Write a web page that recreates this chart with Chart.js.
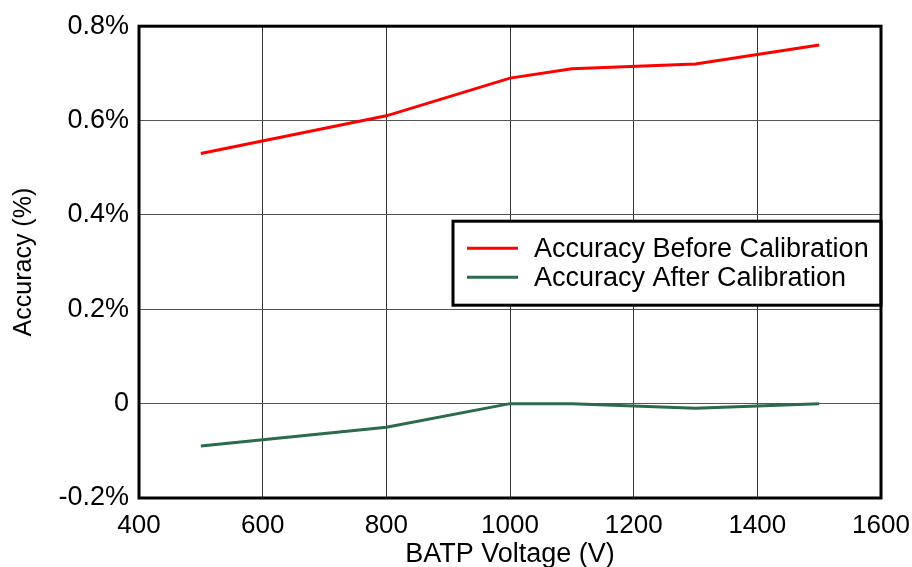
<!DOCTYPE html>
<html>
<head>
<meta charset="utf-8">
<script src="https://cdn.jsdelivr.net/npm/chart.js@4"></script>
<style>
  html, body { margin: 0; padding: 0; background: #fff; }
  #wrap { width: 912px; height: 567px; }
</style>
</head>
<body>
<div id="wrap"><canvas id="accChart" width="912" height="567"></canvas></div>
<script>
// BATP voltage (V) sampling points
const voltages = [500, 800, 1000, 1100, 1300, 1500]
// accuracy in %
const beforeCal = [0.53, 0.61, 0.69, 0.71, 0.72, 0.76]
const afterCal = [-0.09, -0.05, 0.0, 0.0, -0.01, 0.0]
const seriesNames = ['Accuracy Before Calibration', 'Accuracy After Calibration']
const yTickLabels = { '-0.2': '-0.2%', '0': '0', '0.2': '0.2%', '0.4': '0.4%', '0.6': '0.6%', '0.8': '0.8%' }

const FONT = '"Liberation Sans", Arial, sans-serif'
const RED = '#ff0000'
const GREEN = '#2b6b4b'

// legend drawn as a bordered box inside the plot area
const boxLegend = {
  id: 'boxLegend',
  afterDatasetsDraw(chart) {
    const { ctx, chartArea } = chart
    const w = 428, h = 84
    const x = chartArea.right - w
    const y = chartArea.top + 195
    ctx.save()
    ctx.fillStyle = '#fff'
    ctx.fillRect(x, y, w, h)
    ctx.lineWidth = 3
    ctx.strokeStyle = '#000'
    ctx.strokeRect(x, y, w, h)
    ctx.font = '27px ' + FONT
    ctx.textBaseline = 'middle'
    chart.data.datasets.forEach((ds, i) => {
      const ly = y + 27 + i * 29
      ctx.strokeStyle = ds.borderColor
      ctx.lineWidth = 3
      ctx.beginPath()
      ctx.moveTo(x + 14, ly)
      ctx.lineTo(x + 65, ly)
      ctx.stroke()
      ctx.fillStyle = '#000'
      ctx.fillText(ds.label, x + 81, ly + 1)
    })
    ctx.restore()
  }
}

// heavy frame around the plot
const frame = {
  id: 'frame',
  afterDraw(chart) {
    const { ctx, chartArea } = chart
    ctx.save()
    ctx.lineWidth = 3
    ctx.strokeStyle = '#000'
    ctx.strokeRect(chartArea.left, chartArea.top, chartArea.right - chartArea.left, chartArea.bottom - chartArea.top)
    ctx.restore()
  }
}

new Chart(document.getElementById('accChart').getContext('2d'), {
  type: 'line',
  data: {
    datasets: [
      {
        label: seriesNames[0],
        data: voltages.map((v, i) => ({ x: v, y: beforeCal[i] })),
        borderColor: RED,
        borderWidth: 3,
        pointRadius: 0,
        tension: 0,
        fill: false
      },
      {
        label: seriesNames[1],
        data: voltages.map((v, i) => ({ x: v, y: afterCal[i] })),
        borderColor: GREEN,
        borderWidth: 3,
        pointRadius: 0,
        tension: 0,
        fill: false
      }
    ]
  },
  options: {
    responsive: false,
    animation: false,
    layout: { padding: { top: 25, right: 0, left: 9, bottom: 0 } },
    scales: {
      x: {
        type: 'linear',
        min: 400,
        max: 1600,
        ticks: {
          stepSize: 200,
          color: '#000',
          font: { family: FONT, size: 26 },
          padding: 12,
          maxRotation: 0,
          callback: (v) => String(v)
        },
        grid: { color: '#333', lineWidth: 1, drawTicks: false },
        border: { display: false },
        title: { display: true, text: 'BATP Voltage (V)', color: '#000', font: { family: FONT, size: 27 }, padding: { top: 0, bottom: -4 } },
        afterFit(scale) {
          scale.height = 69
          scale.paddingRight = 31
        }
      },
      y: {
        min: -0.2,
        max: 0.8,
        ticks: {
          stepSize: 0.2,
          color: '#000',
          font: { family: FONT, size: 27 },
          padding: 10,
          callback: (v) => yTickLabels[String(Math.round(v * 10) / 10)]
        },
        grid: { color: '#555', lineWidth: 1, drawTicks: false },
        border: { display: false },
        title: { display: true, text: 'Accuracy (%)', color: '#000', font: { family: FONT, size: 25 }, padding: { top: 0, bottom: 0 } },
        afterFit(scale) { scale.width = 130 }
      }
    },
    plugins: {
      legend: { display: false },
      tooltip: { enabled: false }
    }
  },
  plugins: [frame, boxLegend]
})
</script>
</body>
</html>
